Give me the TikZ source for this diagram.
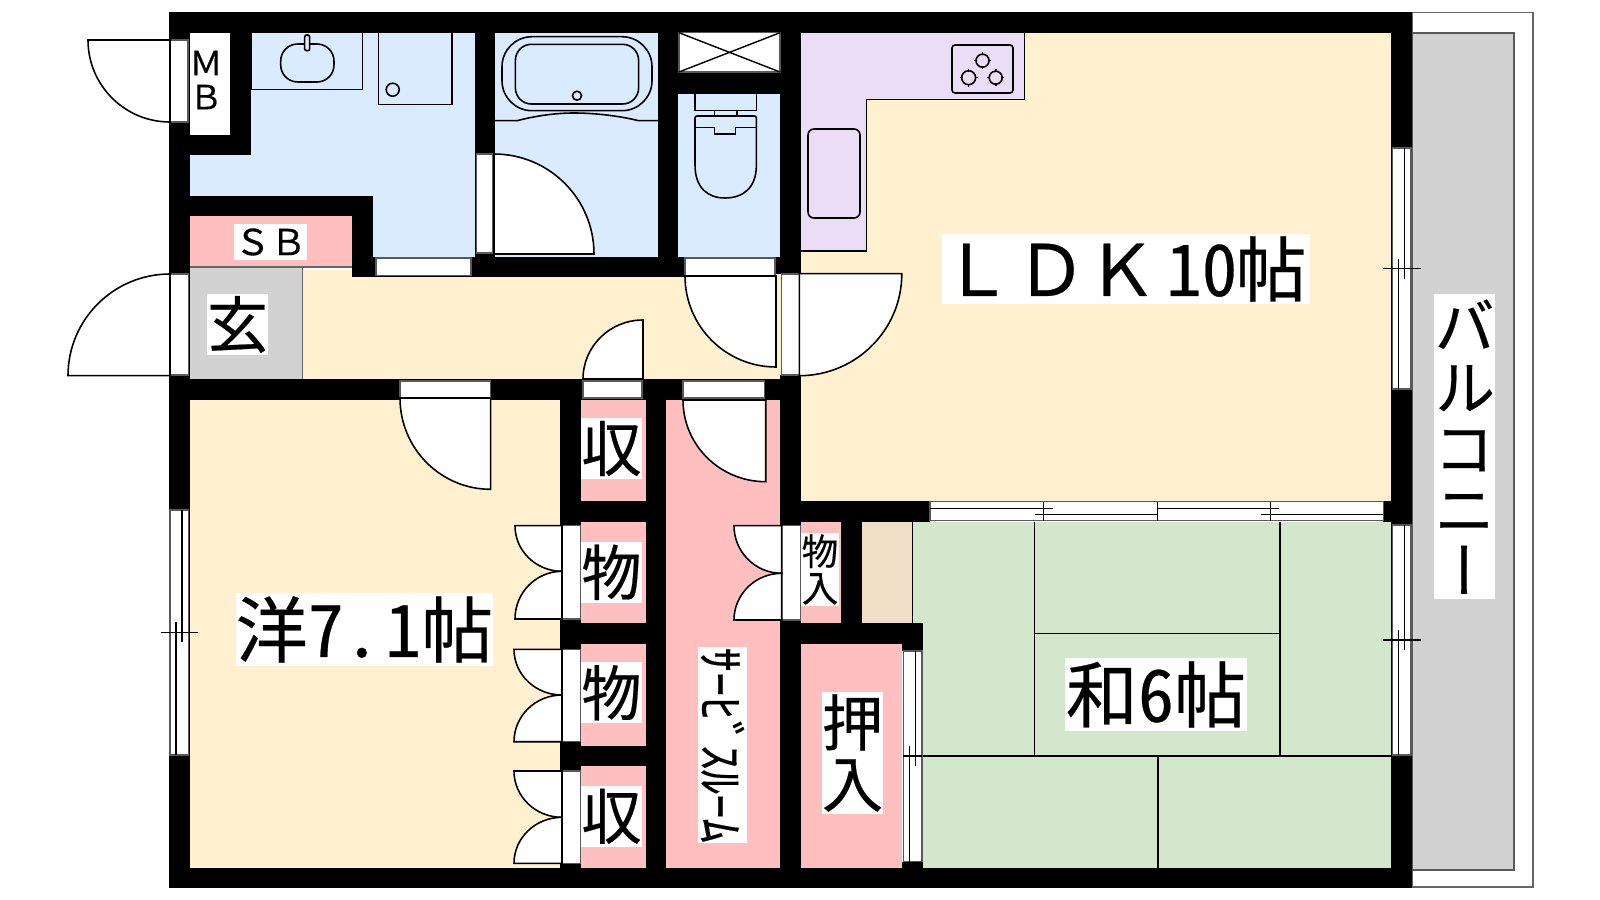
\documentclass[tikz,border=0pt]{standalone}
\usepackage{fontspec}
\setmainfont[FakeBold=0.35]{Noto Sans CJK JP}
\newfontfamily\cjkhalf[RawFeature=+hwid, FakeBold=0.35]{Noto Sans CJK JP}
\newfontfamily\cjkvert[RawFeature=+vert, FakeBold=0.35]{Noto Sans CJK JP}
\usepackage{xcolor}
\definecolor{floorcream}{HTML}{FFF1D0}
\definecolor{floorblue}{HTML}{DAEBFF}
\definecolor{floorlilac}{HTML}{ECDDF6}
\definecolor{floorpink}{HTML}{FFBFBF}
\definecolor{floorgreen}{HTML}{D3E7CC}
\definecolor{floorbeige}{HTML}{EEDFC6}
\definecolor{floorgray}{HTML}{D2D2D2}
\tikzset{
	wallpart/.style={fill=black, draw=none},
	fixture/.style={draw=black, line width=0.45pt},
	opening/.style={fill=white, draw=black!65, line width=0.4pt},
	doorleaf/.style={fill=white, draw=black, line width=0.45pt},
	thinline/.style={draw=black, line width=0.4pt},
	roomlabel/.style={rectangle, fill=white, inner sep=0pt, align=center},
}
\newcommand{\floorpart}[5]{\fill[#1] (#2,#3) rectangle (#4,#5);}
\newcommand{\wallbox}[4]{\fill[wallpart] (#1,#2) rectangle (#3,#4);}
\newcommand{\door}[4]{\draw[doorleaf] (#1,#2) -- (#3,#2) .. controls (#3,{#2+0.5523*(#4-#2)}) and ({#1+0.5523*(#3-#1)},#4) .. (#1,#4) -- cycle;}
\newcommand{\slidewindow}[6]{
	\draw[opening] (#1,#2) rectangle ({#1+18.5},#4);
	\draw[thinline] ({#1+12},#2) -- ({#1+12},{#3+10});
	\draw[thinline] ({#1+6},{#3-10}) -- ({#1+6},#4);
	\draw[thinline] (#5,#3) -- (#6,#3);
}
\begin{document}
\begin{tikzpicture}[x=0.01cm, y=-0.01cm]
	\useasboundingbox (0,0) rectangle (1600,900);
	\fill[white] (0,0) rectangle (1600,900);
	% balcony
	\draw[fill=white, draw=black!60, line width=0.5pt] (1412,12.5) rectangle (1533,887);
	\draw[fill=floorgray, draw=black!65, line width=0.5pt] (1412,32.7) rectangle (1514,870);
	% floors
	\floorpart{floorcream}{189}{400}{561}{869}
	\floorpart{floorcream}{300}{270}{790}{380}
	\floorpart{floorcream}{800}{32}{1392}{502}
	\fill[floorblue] (189,155) -- (251,155) -- (251,32) -- (476,32) -- (476,258) -- (373,258) -- (373,197) -- (189,197) -- cycle;
	\floorpart{floorblue}{494}{32}{659}{257}
	\floorpart{floorblue}{677}{93}{781}{257}
	\fill[floorlilac] (801,32.7) -- (1024.5,32.7) -- (1024.5,99.3) -- (866.4,99.3) -- (866.4,251) -- (801,251) -- cycle;
	\draw[thinline] (1024.5,32.7) -- (1024.5,99.3) -- (866.4,99.3) -- (866.4,251) -- (801,251);
	\floorpart{floorpink}{189.7}{216}{353}{267}
	\floorpart{floorpink}{580}{400}{647}{868}
	\floorpart{floorpink}{665}{400}{781}{868}
	\floorpart{floorpink}{800}{522}{842}{623}
	\floorpart{floorpink}{800}{643}{902}{868}
	\floorpart{floorbeige}{861}{522}{912.3}{623}
	\floorpart{floorgreen}{912.3}{522}{1392}{623}
	\floorpart{floorgreen}{922}{623}{1392}{868}
	\floorpart{floorgray}{189.7}{267}{302.7}{380}
	\draw[thinline, draw=black!60] (189.7,267) -- (352.3,267) (302.7,267) -- (302.7,379);
	% tatami
	\draw[thinline] (912.3,522) -- (912.3,623);
	\draw[thinline] (1034.7,522) -- (1034.7,756) (1280,522) -- (1280,756) (1158,756) -- (1158,868);
	\draw[thinline] (1034.7,633.7) -- (1280,633.7) (923,756) -- (1391,756);
	% walls
	\wallbox{169}{12}{189.7}{888}
	\wallbox{169}{12}{1412}{32.7}
	\wallbox{169}{868}{1412}{888}
	\wallbox{1391}{12}{1412}{888}
	\wallbox{230}{32}{251}{155}
	\wallbox{189}{135}{251}{155}
	\wallbox{189}{196}{373}{216}
	\wallbox{352.3}{196}{373}{276.7}
	\wallbox{352.3}{257}{685}{276.7}
	\wallbox{475}{32}{495}{257}
	\wallbox{658}{32}{678}{257}
	\wallbox{678}{72}{780}{94}
	\wallbox{780}{32}{801}{274}
	\wallbox{775}{257}{801}{274}
	\wallbox{169}{379}{801}{400}
	\wallbox{780}{375}{801}{868}
	\wallbox{560}{400}{581}{868}
	\wallbox{646}{400}{666}{868}
	\foreach \ya/\yb in {500.7/522, 622.7/644, 745.7/766}{
		\wallbox{560}{\ya}{666}{\yb}
	}
	\wallbox{780}{500.7}{930}{522}
	\wallbox{841}{522}{861.7}{623}
	\wallbox{780}{622.7}{923}{644}
	\wallbox{902}{644}{923}{651}
	\wallbox{902}{861.7}{923}{868}
	\wallbox{1383}{501}{1391}{522}
	% openings
	\fill[white] (189.7,32.7) rectangle (230,135);
	\draw[opening] (170,40) rectangle (188,122);
	\draw[opening] (170,274) rectangle (188.5,375);
	\draw[opening] (376,258) rectangle (471,275.3);
	\draw[opening] (476.4,154) rectangle (492.9,253);
	\draw[opening] (685,258) rectangle (775,275.3);
	\draw[opening] (781.4,274) rectangle (799.3,375);
	\foreach \xa/\xb in {400/490.7, 583/642, 683/764.6}{
		\draw[opening] (\xa,381) rectangle (\xb,398);
	}
	% doors
	\door{170}{40}{88}{122}
	\door{170}{375.7}{68}{274}
	\door{494}{254}{594}{154}
	\door{776}{276}{685}{367}
	\door{799.3}{273.7}{901.8}{375.7}
	\door{643}{379}{583}{320}
	\door{490.7}{398}{400}{489.3}
	\door{765.7}{400}{683}{481.7}
	\foreach \ya/\ym/\yb/\xd/\xl in {525.7/571.3/619/562/515, 649.3/695/741.7/562/514, 771/817.3/863.3/562/514, 525.7/573.3/620/781.7/734}{
		\draw[opening] (\xd,\ya) rectangle ({\xd+18.5},\yb);
		\door{\xd}{\ya}{\xl}{\ym}
		\door{\xd}{\yb}{\xl}{\ym}
	}
	% windows
	\slidewindow{170}{510}{632.3}{755}{160.7}{197.7}
	\slidewindow{1392.3}{148}{268.5}{389}{1383}{1421}
	\slidewindow{1392.3}{525}{640}{755}{1383}{1421}
	\slidewindow{903.3}{651}{756}{861.7}{903.3}{921.8}
	\draw[opening] (930,501.7) rectangle (1383.3,520.7);
	\draw[thinline] (1043.3,501.7) -- (1043.3,520.7) (1157.3,501.7) -- (1157.3,520.7) (1270.7,501.7) -- (1270.7,520.7);
	\draw[thinline] (930,508.7) -- (1053.3,508.7) (1035,514.3) -- (1157.3,514.3) (1157.3,508.7) -- (1279.3,508.7) (1260.7,514.3) -- (1383.3,514.3);
	% wash room
	\draw[fixture] (251.7,32.7) -- (251.7,89.7) -- (362.7,89.7) -- (362.7,32.7);
	\draw[fixture, rounded corners=0.17cm] (280.7,44) rectangle (334,82);
	\draw[fixture, fill=floorblue, rounded corners=0.02cm] (304.7,35) rectangle (309.7,50.7);
	\draw[fixture] (378.3,32.7) -- (378.3,104.7) -- (452,104.7) -- (452,32.7);
	\draw[fixture] (392.7,89.7) circle[radius=6.5];
	% bath
	\draw[fixture, rounded corners=0.3cm] (502,36.7) rectangle (652,110.7);
	\draw[fixture, rounded corners=0.16cm] (515.4,44.3) rectangle (638.6,104);
	\draw[fixture] (577,95.7) circle[radius=4.5];
	\draw[fixture] (495,120.7) -- (517,120.7) .. controls (535,116) and (555,113) .. (574,113) .. controls (595,113) and (620,116) .. (638.6,120.7) -- (658,120.7);
	% shaft and toilet
	\draw[opening] (679,32.7) rectangle (780,72);
	\draw[thinline] (679,32.7) -- (780,72) (679,72) -- (780,32.7);
	\draw[fixture] (695,94) -- (695,110.3) -- (756.4,110.3) -- (756.4,94);
	\draw[fixture] (714.6,110.3) rectangle (737,116);
	\draw[fixture, rounded corners=0.02cm] (695,165) -- (695,116) -- (756.4,116) -- (756.4,165);
	\draw[fixture] (695,165) .. controls (695,188) and (708,198) .. (725,198) .. controls (743,198) and (756.4,188) .. (756.4,165);
	\draw[fixture] (695,127.7) -- (714.6,127.7) -- (714.6,134) -- (735.4,134) -- (735.4,127.7) -- (756.4,127.7);
	% kitchen
	\draw[fixture, rounded corners=0.03cm] (952,45) rectangle (1013,93);
	\foreach \bx/\by/\br in {982.5/60.7/6.5, 968.6/77.7/7, 995.7/77.7/6.5}{
		\draw[fixture] (\bx,\by) circle[radius=\br];
		\draw[fixture] ({\bx-\br-2},\by) -- ({\bx-\br+1},\by) ({\bx+\br-1},\by) -- ({\bx+\br+2},\by);
		\draw[fixture] (\bx,{\by-\br-2}) -- (\bx,{\by-\br+1}) (\bx,{\by+\br-1}) -- (\bx,{\by+\br+2});
	}
	\draw[fixture, rounded corners=0.06cm] (808,129) rectangle (860,218);
	% labels
	\node[roomlabel, minimum width=0.4cm, minimum height=1.02cm, fill=none, font=\fontsize{9.5}{9.7}\selectfont] (mb) at (206,80) {Ｍ\\Ｂ};
	\node[roomlabel, minimum width=0.73cm, minimum height=0.36cm, font=\fontsize{10.2}{10.2}\selectfont] (sb) at (270.5,242) {ＳＢ};
	\node[roomlabel, minimum width=0.61cm, minimum height=0.61cm, font=\fontsize{17.4}{17.4}\selectfont] (genkan) at (237.5,324.5) {玄};
	\node[roomlabel, minimum width=3.66cm, minimum height=0.7cm, font=\fontsize{20.2}{20.2}\selectfont] (ldk) at (1126,269) {Ｌ\kern0.8ptＤＫ\kern2.5pt{\cjkhalf 10}\kern-0.5pt帖\kern1.1pt};
	\node[roomlabel, minimum width=2.57cm, minimum height=0.72cm, font=\fontsize{20.5}{20.5}\selectfont] (yoshitsu) at (364.5,629.5) {洋{\cjkhalf 7.\kern1.5pt1}帖};
	\node[roomlabel, minimum width=1.82cm, minimum height=0.73cm, font=\fontsize{20.5}{20.5}\selectfont] (washitsu) at (1156,694.5) {和{\cjkhalf 6}帖};
	\foreach \ny/\nm/\nt in {448.5/shuA/収, 572.3/butsuA/物, 692.8/butsuB/物, 816.3/shuB/収}{
		\node[roomlabel, minimum width=0.61cm, minimum height=0.61cm, font=\fontsize{17.1}{17.1}\selectfont] (\nm) at (611.5,\ny) {\nt};
	}
	\node[roomlabel, minimum width=0.38cm, minimum height=0.72cm, font=\fontsize{10.4}{10.4}\selectfont] (monoire) at (820,569.5) {物\\入};
	\node[roomlabel, minimum width=0.61cm, minimum height=1.22cm, font=\fontsize{17.4}{17.4}\selectfont] (oshiire) at (852.5,753) {押\\入};
	\node[roomlabel, minimum width=1.95cm, minimum height=0.49cm, rotate=-90, font=\fontsize{13.9}{13.9}\selectfont] (service) at (722.5,745.2) {ｻｰﾋﾞｽﾙｰﾑ};
	\node[roomlabel, minimum width=0.61cm, minimum height=3.05cm, font=\cjkvert\fontsize{17.4}{17.4}\selectfont] (balcony) at (1464.5,446.7) {バ\\ル\\コ\\ニ\\ー};
\end{tikzpicture}
\end{document}
